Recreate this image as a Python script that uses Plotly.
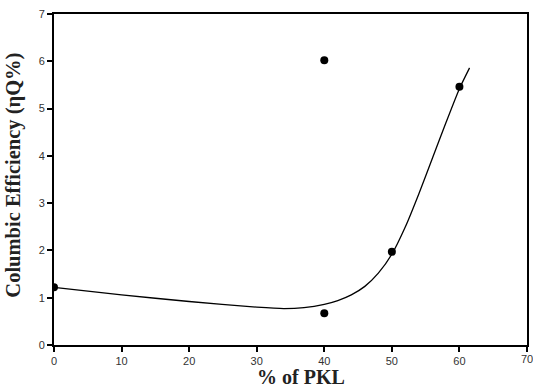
import plotly.graph_objects as go

# measured points
pkl_pct = [0, 40, 40, 50, 60]
efficiency = [1.22, 6.02, 0.67, 1.97, 5.46]

# fitted curve
curve_x = [0, 10, 20, 30, 34, 37, 40, 42, 44, 46, 48, 50, 52, 54, 56, 58, 60, 61.5]
curve_y = [1.22, 1.06, 0.92, 0.80, 0.77, 0.79, 0.86, 0.94, 1.06, 1.24, 1.52, 1.92,
           2.50, 3.20, 3.95, 4.70, 5.42, 5.86]

x_ticks = [0, 10, 20, 30, 40, 50, 60]
x_last_tick = 70
y_ticks = [0, 1, 2, 3, 4, 5, 6, 7]

fig = go.Figure()
fig.add_trace(go.Scatter(x=curve_x, y=curve_y, mode="lines",
                         line=dict(color="black", width=1.3, shape="spline", smoothing=0.6),
                         hoverinfo="skip", showlegend=False))
fig.add_trace(go.Scatter(x=pkl_pct, y=efficiency, mode="markers",
                         marker=dict(color="black", size=8), showlegend=False))

tickfont = dict(family="Liberation Sans, Arial", size=11, color="#333333")
titlefont = dict(family="Liberation Serif, Times New Roman", color="#222222")

fig.update_layout(
    width=533, height=391,
    margin=dict(l=54, r=6, t=14, b=46),
    paper_bgcolor="white", plot_bgcolor="white",
    xaxis=dict(range=[0, 70], tickvals=x_ticks + [x_last_tick], showticklabels=True,
               showgrid=False, zeroline=False,
               showline=True, linecolor="black", linewidth=2, mirror=True,
               ticks="outside", ticklen=5, tickwidth=2, tickcolor="black",
               tickfont=tickfont, automargin=False),
    yaxis=dict(range=[0, 7], tickvals=y_ticks, showgrid=False, zeroline=False,
               showline=True, linecolor="black", linewidth=2, mirror=True,
               ticks="outside", ticklen=5, tickwidth=2, tickcolor="black",
               tickfont=tickfont, automargin=False),
    annotations=[
        dict(text=str(x_last_tick), xref="x", yref="paper", x=x_last_tick, y=0,
             yshift=-6, xanchor="center", yanchor="top", showarrow=False, font=tickfont),
        dict(text="<b>% of PKL</b>", xref="paper", yref="paper",
             x=0.522, y=-0.097, xanchor="center", yanchor="middle",
             showarrow=False, font=dict(titlefont, size=20)),
        dict(text="<b>Columbic Efficiency (ηQ%)</b>", xref="paper", yref="paper",
             x=-0.085, y=0.514, xanchor="center", yanchor="middle", textangle=-90,
             showarrow=False, font=dict(titlefont, size=20.5)),
    ],
)

fig.write_html("out.html")
